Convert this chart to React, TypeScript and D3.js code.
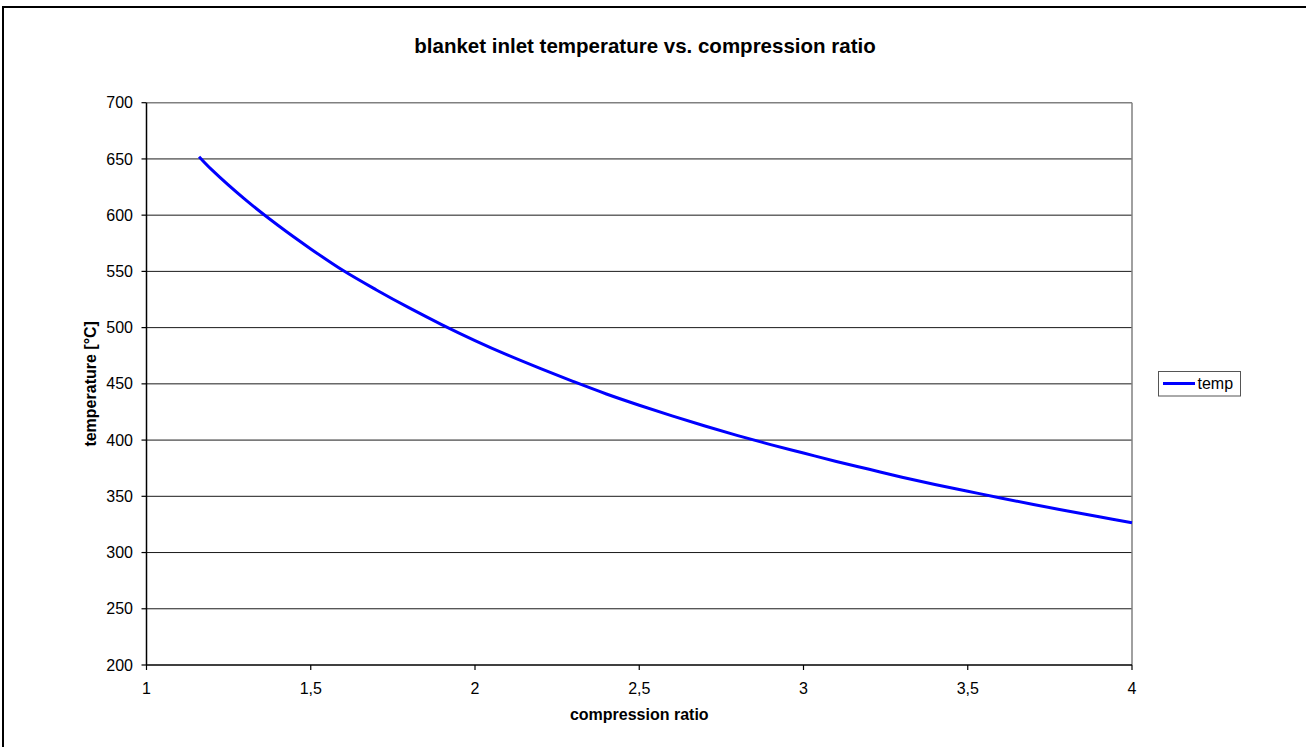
import React from "react";
import * as d3 from "d3";

const ratio = [1.16, 1.2, 1.3, 1.4, 1.5, 1.6, 1.7, 1.8, 1.9, 2.0, 2.1, 2.2, 2.3, 2.4, 2.5, 2.6, 2.7, 2.8, 2.9, 3.0, 3.1, 3.2, 3.3, 3.4, 3.5, 3.6, 3.7, 3.8, 3.9, 4.0];
const temp = [652, 640, 614, 591, 570, 550.5, 533.5, 517.5, 502.5, 488.5, 475.5, 463.5, 452, 441, 431, 421.5, 412.5, 404, 396, 388.5, 381, 374, 367, 360.5, 354.5, 348.5, 342.7, 337.2, 331.8, 326.5];
const xTicks = [1, 1.5, 2, 2.5, 3, 3.5, 4];
const yTicks = [200, 250, 300, 350, 400, 450, 500, 550, 600, 650, 700];
const seriesName = "temp";
const title = "blanket inlet temperature vs. compression ratio";
const xTitle = "compression ratio";
const yTitle = "temperature [°C]";

export default function App() {
  const W = 1306, H = 747;
  const x = d3.scaleLinear().domain([1, 4]).range([146.5, 1132]);
  const y = d3.scaleLinear().domain([200, 700]).range([665, 102.7]);
  const pts = ratio.map((r, i) => [r, temp[i]] as [number, number]);
  const line = d3.line<[number, number]>().x(d => x(d[0])).y(d => y(d[1])).curve(d3.curveCatmullRom.alpha(0.5));
  const font = "Arial, 'Liberation Sans', Helvetica, sans-serif";
  const fmt = (v: number) => String(v).replace(".", ",");
  return (
    <svg width={W} height={H} style={{ position: "absolute", left: 0, top: 0, background: "#fff" }} fontFamily={font}>
      <rect x={0} y={0} width={W} height={H} fill="#fff" />
      <rect x={3} y={7} width={1320} height={760} fill="none" stroke="#000" strokeWidth={2} />
      {yTicks.filter(t => t !== 200 && t !== 700).map(t => (
        <line key={t} x1={x(1)} x2={x(4)} y1={y(t)} y2={y(t)} stroke="#1a1a1a" strokeWidth={1} />
      ))}
      <line x1={x(1)} x2={x(4)} y1={y(700)} y2={y(700)} stroke="#808080" strokeWidth={1.5} />
      <line x1={x(4)} x2={x(4)} y1={y(700)} y2={y(200)} stroke="#808080" strokeWidth={1.5} />
      <line x1={x(1)} x2={x(1)} y1={y(700)} y2={y(200)} stroke="#000" strokeWidth={1.5} />
      <line x1={x(1)} x2={x(4)} y1={y(200)} y2={y(200)} stroke="#000" strokeWidth={1.5} />
      {yTicks.map(t => (
        <g key={t}>
          <line x1={x(1) - 5} x2={x(1)} y1={y(t)} y2={y(t)} stroke="#000" strokeWidth={1.2} />
          <text x={133} y={y(t)} dy="0.35em" textAnchor="end" fontSize={16} fill="#000">{t}</text>
        </g>
      ))}
      {xTicks.map(t => (
        <g key={t}>
          <line x1={x(t)} x2={x(t)} y1={y(200)} y2={y(200) + 5} stroke="#000" strokeWidth={1.2} />
          <text x={x(t)} y={694} textAnchor="middle" fontSize={16} fill="#000">{fmt(t)}</text>
        </g>
      ))}
      <path d={line(pts) || ""} fill="none" stroke="#0000ff" strokeWidth={3} />
      <text x={645} y={52.5} textAnchor="middle" fontSize={20.5} fontWeight="bold" fill="#000">{title}</text>
      <text x={(x(1) + x(4)) / 2} y={720} textAnchor="middle" fontSize={16} fontWeight="bold" fill="#000">{xTitle}</text>
      <text transform={`translate(96,${(y(200) + y(700)) / 2}) rotate(-90)`} textAnchor="middle" fontSize={16} fontWeight="bold" fill="#000">{yTitle}</text>
      <rect x={1158.5} y={371.5} width={82} height={24.5} fill="#fff" stroke="#555" strokeWidth={1} />
      <line x1={1163} x2={1195} y1={383.5} y2={383.5} stroke="#0000ff" strokeWidth={3} />
      <text x={1197.5} y={383.5} dy="0.35em" fontSize={16} fill="#000">{seriesName}</text>
    </svg>
  );
}
